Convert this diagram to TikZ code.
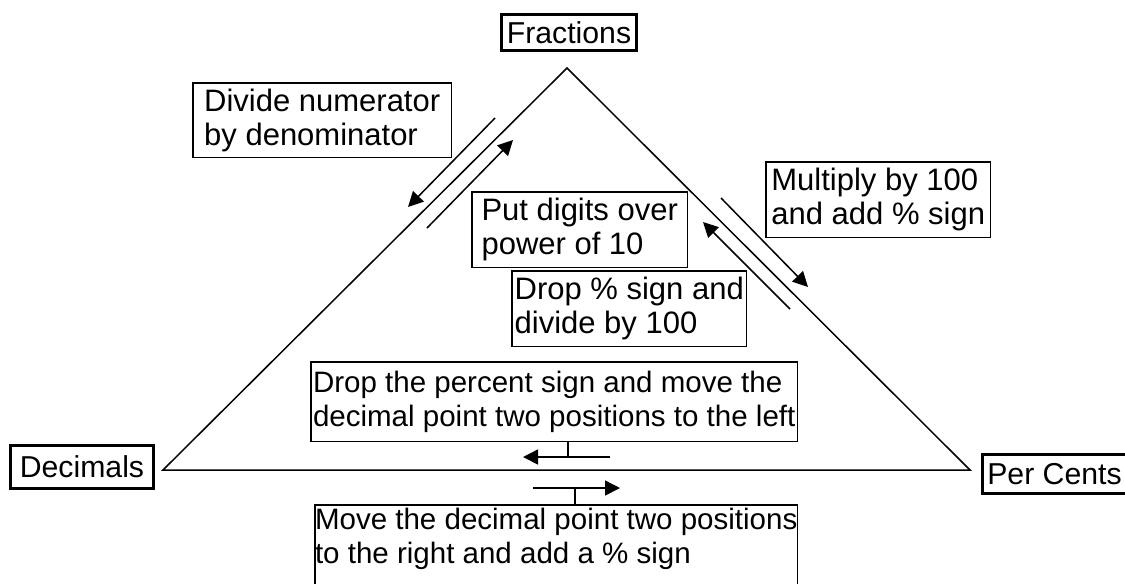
\documentclass[tikz,border=0pt]{standalone}
\usepackage{fontspec}
\setmainfont{Liberation Sans}
\usetikzlibrary{arrows.meta}

\begin{document}
\begin{tikzpicture}[x=0.02cm, y=-0.02cm, line width=0.03cm,
  every node/.style={font=\fontsize{16.8pt}{19.35pt}\selectfont, inner sep=0pt},
  notefont/.style={font=\fontsize{17.64pt}{19.35pt}\selectfont},
  cornerbox/.style={draw, line width=0.07cm, font=\fontsize{17.2pt}{19.35pt}\selectfont},
  notebox/.style={draw, align=left, anchor=north west},
  flow/.style={-{Triangle[length=0.3cm,width=0.3cm]}}]

\useasboundingbox (0,0) rectangle (1125,583);
\clip (0,0) rectangle (1125,583);

% Triangle
\coordinate (apex) at (567,68);
\coordinate (lbase) at (163,470);
\coordinate (rbase) at (970,470);
\draw (lbase) -- (apex) -- (rbase) -- cycle;

% Corner labels
\node[cornerbox, minimum width=2.7cm, minimum height=0.72cm] (frac) at (569,32.5) {Fractions};
\node[cornerbox, minimum width=2.86cm, minimum height=0.86cm] (dec) at (82,467) {Decimals};
\node[cornerbox, minimum width=2.88cm, minimum height=0.78cm] (pct) at (1054.5,474) {Per Cents};

% Fractions <-> Decimals
\node[notebox, notefont, minimum width=5.18cm, minimum height=1.5cm] (divide) at (192,82) {Divide numerator\\by denominator};
\node[notebox, notefont, minimum width=4.32cm, minimum height=1.52cm] (digits) at (471,191) {Put digits over\\power of 10};
\coordinate (fd1) at (495,118);
\coordinate (fd2) at (408,207);
\coordinate (df1) at (427,228);
\coordinate (df2) at (513,140);
\draw[flow] (fd1) -- (fd2);
\draw[flow] (df1) -- (df2);

% Fractions <-> Per Cents
\node[notebox, notefont, minimum width=4.5cm, minimum height=1.52cm] (multiply) at (765,161) {Multiply by 100\\and add \% sign};
\node[notebox, notefont, minimum width=4.7cm, minimum height=1.52cm] (droppct) at (511,270) {Drop \% sign and\\divide by 100};
\coordinate (fp1) at (721,198);
\coordinate (fp2) at (808,287);
\coordinate (pf1) at (790,309);
\coordinate (pf2) at (703,222);
\draw[flow] (fp1) -- (fp2);
\draw[flow] (pf1) -- (pf2);

% Per Cents <-> Decimals
\node[notebox, minimum width=9.74cm, minimum height=1.6cm] (todec) at (310,361) {Drop the percent sign and move the\\decimal point two positions to the left};
\node[notebox, minimum width=9.66cm, inner ysep=0.06cm] (toper) at (314,504) {Move the decimal point two positions\\to the right and add a \% sign\rule[-0.5cm]{0pt}{0pt}};
\coordinate (ltick) at (568,457);
\coordinate (ltail) at (610,457);
\coordinate (lhead) at (523,457);
\coordinate (rtick) at (575,488);
\coordinate (rtail) at (533,488);
\coordinate (rhead) at (620,488);
\draw (todec.south -| ltick) -- (ltick);
\draw[flow] (ltail) -- (lhead);
\draw (toper.north -| rtick) -- (rtick);
\draw[flow] (rtail) -- (rhead);

\end{tikzpicture}
\end{document}
